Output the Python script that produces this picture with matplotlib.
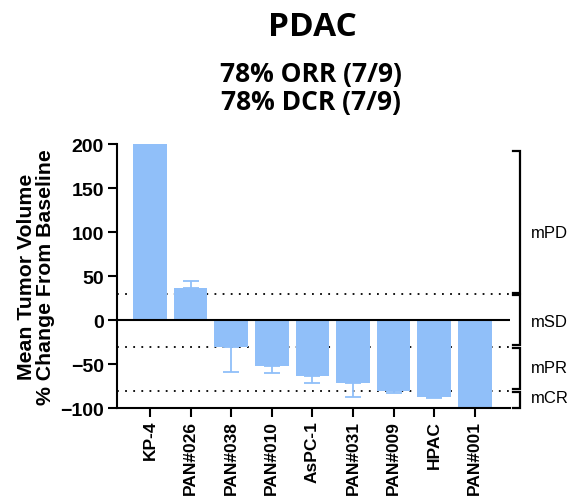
import matplotlib
matplotlib.use("Agg")
import matplotlib.pyplot as plt
import matplotlib.transforms as mtransforms
import numpy as np

MODELS = ["KP-4", "PAN#026", "PAN#038", "PAN#010", "AsPC-1",
          "PAN#031", "PAN#009", "HPAC", "PAN#001"]
MEAN_CHANGE = [200, 36, -31, -52, -63, -71, -80, -87, -100]
SEM = [0, 9, 28, 8.5, 8.5, 16, 2.7, 1.3, 0]

THRESHOLDS = [30, -30, -80]
# (label, bracket top, bracket bottom, label y)
RESPONSE_BANDS = [("mPD", 192, 30, 100), ("mSD", 30, -30, -2),
                  ("mPR", -30, -80, -54), ("mCR", -80, -100, -88)]
YTICKS = [200, 150, 100, 50, 0, -50, -100]

BAR_COLOR = "#90bff9"
AX_FONT = "Liberation Sans"
TITLE_FONT = "Open Sans"

fig = plt.figure(figsize=(5.74, 5.02), dpi=100)
ax = fig.add_axes([0.204, 0.185, 0.684, 0.526])

x = np.arange(len(MODELS))
ax.bar(x, MEAN_CHANGE, width=0.83, color=BAR_COLOR, zorder=2)

# one-sided error bars, away from zero
lower = [s if v < 0 else 0 for v, s in zip(MEAN_CHANGE, SEM)]
upper = [s if v > 0 else 0 for v, s in zip(MEAN_CHANGE, SEM)]
ax.errorbar(x, MEAN_CHANGE, yerr=[lower, upper], fmt="none",
            ecolor=BAR_COLOR, elinewidth=1.3, capsize=6, capthick=1.3,
            zorder=1)

ax.axhline(0, color="black", lw=1.5, zorder=3)
for t in THRESHOLDS:
    ax.plot([-0.81, 8.93], [t, t], color="black", lw=1.3,
            linestyle=(0, (1, 3.5)), clip_on=False, zorder=0)

ax.set_xlim(-0.81, 8.86)
ax.set_ylim(-100, 200)
ax.set_yticks(YTICKS)
ax.set_xticks(x)
ax.set_xticklabels(MODELS, rotation=90, fontsize=12.5, fontweight="bold",
                   family=AX_FONT)
for lab in ax.get_yticklabels():
    lab.set_fontsize(14)
    lab.set_fontweight("bold")
    lab.set_family(AX_FONT)
ax.tick_params(axis="both", direction="out", length=6.5, width=1.5, pad=3)
ax.tick_params(axis="x", pad=2)

ax.spines["top"].set_visible(False)
ax.spines["right"].set_visible(False)
ax.spines["left"].set_linewidth(1.5)
ax.spines["bottom"].set_linewidth(1.5)

ax.set_ylabel("Mean Tumor Volume\n% Change From Baseline", fontsize=15.3,
              fontweight="bold", family=AX_FONT, linespacing=1.0,
              labelpad=4)

# response brackets on the right
trans = mtransforms.blended_transform_factory(ax.transAxes, ax.transData)
xb = 1.026
tick = 0.018
gap = 1.2
for name, top, bottom, ly in RESPONSE_BANDS:
    t_ = top - gap if top != 192 else top
    b_ = bottom + gap if bottom != -100 else bottom
    ax.plot([xb - tick, xb, xb, xb - tick], [t_, t_, b_, b_],
            color="black", lw=1.6, transform=trans, clip_on=False,
            solid_joinstyle="miter")
    ax.text(xb + 0.027, ly, name, transform=trans,
            fontsize=12, family=AX_FONT, va="center", ha="left")

fig.text(0.544, 0.945, "PDAC", ha="center", va="center", fontsize=24,
         fontweight="bold", family=TITLE_FONT)
fig.text(0.542, 0.823, "78% ORR (7/9)\n78% DCR (7/9)", ha="center",
         va="center", fontsize=19, fontweight="bold", family=TITLE_FONT,
         linespacing=1.05)

fig.savefig("out.png", dpi=100)
